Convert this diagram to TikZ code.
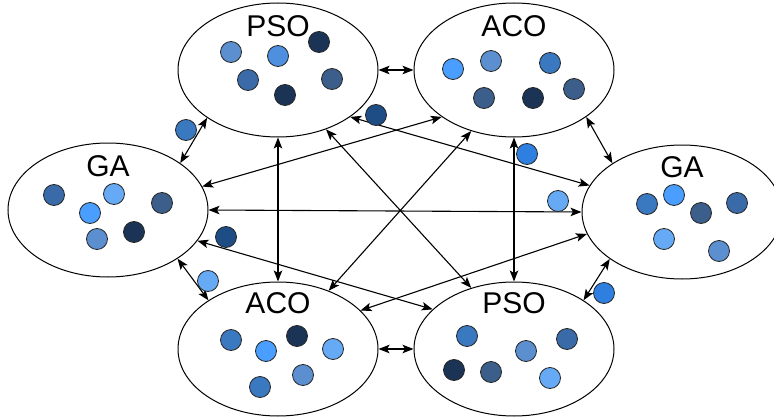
\documentclass[tikz,border=0pt]{standalone}
\usepackage{fontspec}
\setmainfont{Liberation Sans}
\usetikzlibrary{arrows.meta,shapes.geometric}
\definecolor{NavyClr}{rgb}{0.106,0.2,0.329}
\definecolor{DeepClr}{rgb}{0.118,0.298,0.522}
\definecolor{SlateClr}{rgb}{0.231,0.369,0.541}
\definecolor{MidClr}{rgb}{0.227,0.416,0.659}
\definecolor{RoyalClr}{rgb}{0.227,0.471,0.753}
\definecolor{AzureClr}{rgb}{0.184,0.498,0.878}
\definecolor{SteelClr}{rgb}{0.357,0.561,0.816}
\definecolor{SkyClr}{rgb}{0.31,0.561,0.875}
\definecolor{BrightClr}{rgb}{0.29,0.62,1.0}
\definecolor{LightClr}{rgb}{0.4,0.667,0.961}

\begin{document}
\begin{tikzpicture}[x=1pt,y=-1pt,
  pop/.style={draw,ellipse,line width=1pt,minimum width=200pt,minimum height=134pt,inner sep=0pt},
  lbl/.style={anchor=base,font=\fontsize{30}{36}\selectfont},
  ind/.style={circle,draw=black!85,line width=0.8pt,minimum size=21pt,inner sep=0pt},
  link/.style={{Stealth[length=11pt,width=8.5pt,inset=2.5pt]}-{Stealth[length=11pt,width=8.5pt,inset=2.5pt]},line width=1.1pt}]

\useasboundingbox (0,0) rectangle (774,420);

\node[pop] (psoT) at (278,70) {};
\node[pop] (acoT) at (514,70) {};
\node[pop] (gaL) at (108,210) {};
\node[pop] (gaR) at (682,212) {};
\node[pop] (acoB) at (278,349) {};
\node[pop] (psoB) at (514,349) {};

\node[lbl] (psoTlbl) at ([yshift=-34pt]psoT.north) {PSO};
\node[lbl] (acoTlbl) at ([yshift=-34pt]acoT.north) {ACO};
\node[lbl] (gaLlbl) at ([yshift=-34pt]gaL.north) {GA};
\node[lbl] (gaRlbl) at ([yshift=-33pt]gaR.north) {GA};
\node[lbl] (acoBlbl) at ([yshift=-32pt]acoB.north) {ACO};
\node[lbl] (psoBlbl) at ([yshift=-32pt]psoB.north) {PSO};

\draw[link] (psoT.0) -- (acoT.180);
\draw[link] (acoB.0) -- (psoB.180);
\draw[link] (psoT.214.6) -- (gaL.33.3);
\draw[link] (acoT.-33.3) -- (gaR.145.4);
\draw[link] (gaL.-35.5) -- (acoB.145.4);
\draw[link] (gaR.213.7) -- (psoB.35.8);
\draw[link] (psoT.270) -- (acoB.90);
\draw[link] (acoT.270) -- (psoB.90);
\draw[link] (gaL.0) -- (gaR.180);
\draw[link] (gaL.14.9) -- (acoT.213.9);
\draw[link] (psoT.-33.7) -- (gaR.164.6);
\draw[link] (gaL.-19) -- (psoB.154);
\draw[link] (acoB.25.3) -- (gaR.193.5);
\draw[link] (psoT.-51.7) -- (psoB.125.7);
\draw[link] (acoT.235.7) -- (acoB.49.1);

\foreach \x/\y/\c [count=\i] in {231/52/SteelClr,278/56/SkyClr,319/42/NavyClr,248/80/MidClr,332/79/SlateClr,285/95/NavyClr}
  \node[ind,fill=\c] (psoT\i) at (\x,\y) {};
\foreach \x/\y/\c [count=\i] in {453/69/BrightClr,491/61/SteelClr,550/63/RoyalClr,484/98/SlateClr,533/98/NavyClr,574/89/SlateClr}
  \node[ind,fill=\c] (acoT\i) at (\x,\y) {};
\foreach \x/\y/\c [count=\i] in {54/195/MidClr,114/194/LightClr,90/213/BrightClr,162/203/SlateClr,97/239/SteelClr,134/232/NavyClr}
  \node[ind,fill=\c] (gaL\i) at (\x,\y) {};
\foreach \x/\y/\c [count=\i] in {647/204/RoyalClr,674/195/BrightClr,701/213/SlateClr,737/203/MidClr,664/239/LightClr,719/251/SteelClr}
  \node[ind,fill=\c] (gaR\i) at (\x,\y) {};
\foreach \x/\y/\c [count=\i] in {231/340/RoyalClr,266/351/BrightClr,297/336/NavyClr,333/349/LightClr,260/387/RoyalClr,303/375/SteelClr}
  \node[ind,fill=\c] (acoB\i) at (\x,\y) {};
\foreach \x/\y/\c [count=\i] in {467/336/RoyalClr,454/370/NavyClr,491/372/SlateClr,526/351/SteelClr,567/339/MidClr,550/378/LightClr}
  \node[ind,fill=\c] (psoB\i) at (\x,\y) {};

% individuals moving between populations
\foreach \x/\y/\c [count=\i] in {186/130/RoyalClr,376/115/DeepClr,527/154/AzureClr,558/201/LightClr,226/237/DeepClr,208/281/LightClr,604/293/AzureClr}
  \node[ind,fill=\c] (mig\i) at (\x,\y) {};

\end{tikzpicture}
\end{document}
